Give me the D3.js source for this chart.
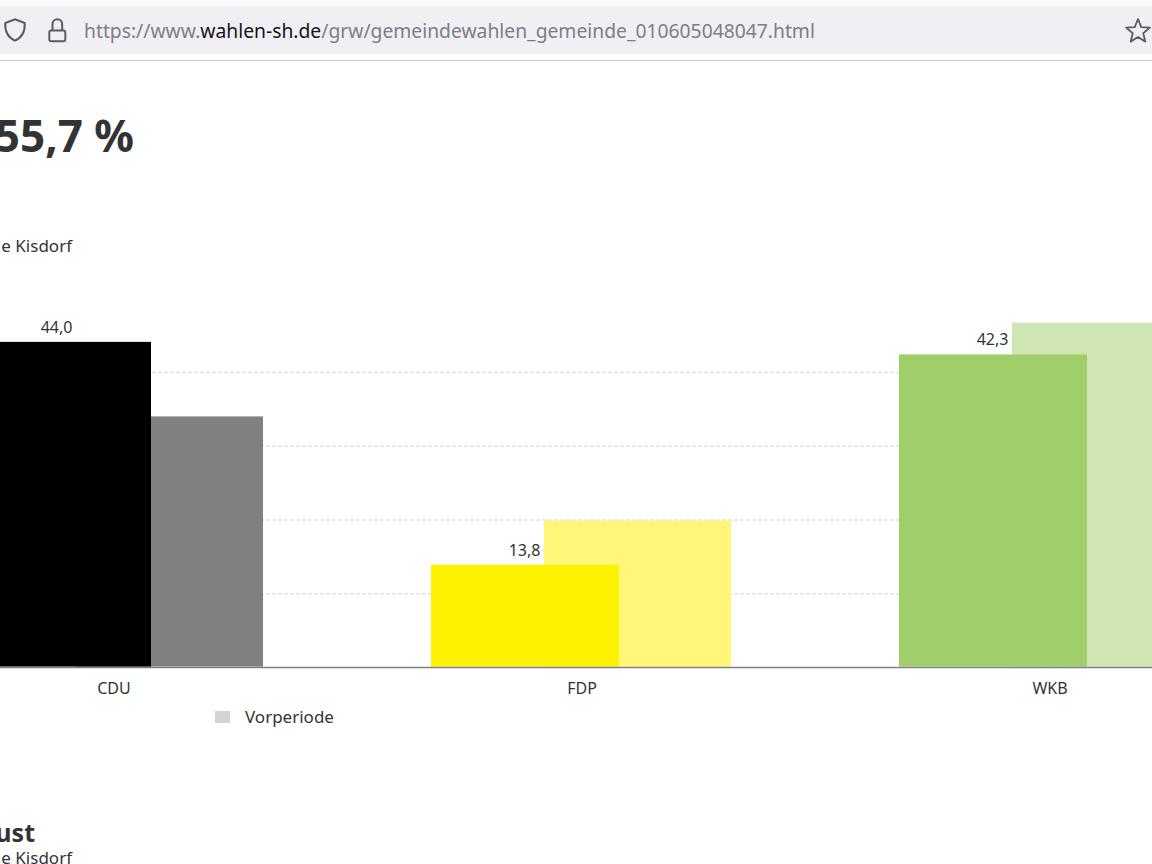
<!DOCTYPE html>
<html>
<head>
<meta charset="utf-8">
<script src="https://cdn.jsdelivr.net/npm/d3@7"></script>
<style>
	html, body { margin: 0; padding: 0; background: #fff; overflow: hidden; }
	svg { display: block; }
	text { font-family: "Noto Sans", "Open Sans", sans-serif; fill: #333; }
</style>
</head>
<body>
<div id="chart"></div>
<script>
var parties = ["CDU", "FDP", "WKB"];
var currentVotes = [44.0, 13.8, 42.3];
var previousVotes = [33.9, 19.8, 46.6];
var currentColors = ["#000000", "#fff200", "#9fce6a"];
var previousColors = ["#808080", "#fff67a", "#cfe5b2"];
var gridValues = [10, 20, 30, 40];

var width = 1152, height = 864;
var svg = d3.select("#chart").append("svg").attr("width", width).attr("height", height);

// Browserleiste
svg.append("rect").attr("width", width).attr("height", 6).attr("fill", "#f9f9fb");
svg.append("rect").attr("y", 6).attr("width", width).attr("height", 48).attr("fill", "#f0f0f4");
svg.append("rect").attr("y", 60).attr("width", width).attr("height", 1).attr("fill", "#cfcfd3");
var iconStroke = "#5b5b66";
svg.append("path")
	.attr("d", "M15 19.3 L24.7 23 C25.2 31 22 37.5 15 40.7 C8 37.5 4.8 31 5.3 23 Z")
	.attr("fill", "none").attr("stroke", iconStroke).attr("stroke-width", 2);
svg.append("rect").attr("x", 49.3).attr("y", 30.5).attr("width", 16).attr("height", 10.7).attr("rx", 2)
	.attr("fill", "none").attr("stroke", iconStroke).attr("stroke-width", 2);
svg.append("path").attr("d", "M52.5 30.5 V24.5 C52.5 17.5 62.2 17.5 62.2 24.5 V30.5")
	.attr("fill", "none").attr("stroke", iconStroke).attr("stroke-width", 2);
svg.append("path")
	.attr("d", d3.line()(d3.range(10).map(function(i) {
		var r = i % 2 ? 5.5 : 12.5, a = i * Math.PI / 5;
		return [1138 + r * Math.sin(a), 31.5 - r * Math.cos(a)];
	})) + "Z")
	.attr("fill", "none").attr("stroke", iconStroke).attr("stroke-width", 1.8).attr("stroke-linejoin", "round");

var url = svg.append("text").attr("x", 84).attr("y", 38).attr("font-size", 19.3);
url.append("tspan").style("fill", "#7e7e87").text("https://www.");
url.append("tspan").style("fill", "#15141a").text("wahlen-sh.de");
url.append("tspan").style("fill", "#7e7e87").text("/grw/gemeindewahlen_gemeinde_010605048047.html");

// Ueberschriften, links abgeschnitten
svg.append("text").attr("x", 134).attr("y", 152).attr("text-anchor", "end")
	.attr("font-size", 44).attr("font-weight", 700).text("55,7 %");
svg.append("text").attr("x", 72).attr("y", 252).attr("text-anchor", "end")
	.attr("font-size", 17).text("e Kisdorf");
svg.append("text").attr("x", 35).attr("y", 842).attr("text-anchor", "end")
	.attr("font-size", 25).attr("font-weight", 700).text("ust");
svg.append("text").attr("x", 72).attr("y", 864).attr("text-anchor", "end")
	.attr("font-size", 17).text("e Kisdorf");

// Skalen
var x = d3.scaleBand().domain(parties).range([-120, 1284]);
var y = d3.scaleLinear().domain([0, 50]).range([666.6, 297.6]);
var center = function(d) { return x(d) + x.bandwidth() / 2; };
var barWidth = 188;
var previousWidth = 187;

// Gitterlinien
var grid = svg.append("g").attr("transform", "translate(" + width + ",0.5)")
	.call(d3.axisLeft(y).tickValues(gridValues).tickSize(width).tickFormat(""));
grid.select(".domain").remove();
grid.selectAll("line").attr("stroke", "#e0e0e0").attr("stroke-width", 1.5).attr("stroke-dasharray", "4 2");

// Balken: Vorperiode liegt hinter dem aktuellen Wert
svg.append("g").selectAll("rect").data(parties).enter().append("rect")
	.attr("x", function(d) { return center(d) - 38; })
	.attr("y", function(d, i) { return y(previousVotes[i]); })
	.attr("width", previousWidth)
	.attr("height", function(d, i) { return y(0) - y(previousVotes[i]); })
	.attr("fill", function(d, i) { return previousColors[i]; });
svg.append("g").selectAll("rect").data(parties).enter().append("rect")
	.attr("x", function(d) { return center(d) - 151; })
	.attr("y", function(d, i) { return y(currentVotes[i]); })
	.attr("width", barWidth)
	.attr("height", function(d, i) { return y(0) - y(currentVotes[i]); })
	.attr("fill", function(d, i) { return currentColors[i]; });

svg.append("g").selectAll("text").data(parties).enter().append("text")
	.attr("x", function(d) { return center(d) - 151 + barWidth / 2 - 0.5; })
	.attr("y", function(d, i) { return y(currentVotes[i]) - 9; })
	.attr("text-anchor", "middle").attr("font-size", 16)
	.text(function(d, i) { return d3.format(".1f")(currentVotes[i]).replace(".", ","); });

// x-Achse
var axis = svg.append("g").attr("transform", "translate(0,667)")
	.call(d3.axisBottom(x).tickSize(0).tickPadding(16));
axis.select(".domain").attr("stroke", "#808080").attr("stroke-width", 1.5);
axis.selectAll("text").attr("font-size", 16).attr("font-family", null);

// Legende
svg.append("rect").attr("x", 215).attr("y", 711).attr("width", 15).attr("height", 12).attr("fill", "#d3d3d3");
svg.append("text").attr("x", 245).attr("y", 723).attr("font-size", 17).text("Vorperiode");
</script>
</body>
</html>
